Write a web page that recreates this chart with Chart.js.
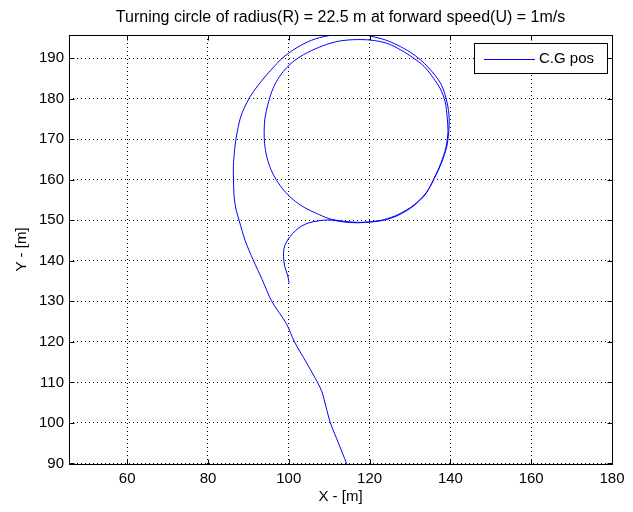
<!DOCTYPE html>
<html>
<head>
<meta charset="utf-8">
<script src="https://cdn.jsdelivr.net/npm/chart.js@4.4.1/dist/chart.umd.min.js"></script>
<style>
  body { margin: 0; background: #fff; }
  canvas { display: block; }
</style>
</head>
<body>
<canvas id="turnChart" width="633" height="512"></canvas>
<script>
// C.G position: hook, two turns of the circle, then the exit
const posX = [
  100.1, 99.7, 99.0, 98.7, 98.8, 99.4, 100.4, 101.6, 103.0, 105.0, 107.5, 110.2,
  113.5, 116.8, 120.5, 123.4, 127.0, 130.8, 133.8, 135.8, 137.6, 138.9, 139.4, 139.2,
  138.7, 137.5, 135.8, 133.5, 130.8, 127.8, 124.3, 120.2, 116.0, 112.8, 110.2, 106.5,
  102.8, 100.3, 98.6, 96.9, 95.8, 94.8, 94.1, 93.9, 94.0, 94.6, 95.6, 96.9,
  98.8, 101.1, 103.8, 106.9, 110.0,
  113.4, 116.9, 120.6, 123.7, 127.2, 131.0, 134.0, 136.0, 137.8, 139.1, 139.6, 139.7,
  139.2, 137.7, 134.4, 131.1, 127.6, 124.0, 120.5, 115.8, 111.1, 106.6, 102.8, 98.8,
  96.6, 94.5, 92.3, 90.4, 89.0, 88.0, 87.1, 86.6, 86.3, 86.3, 86.5, 87.0,
  87.7, 89.2, 91.2, 93.4, 95.8, 99.4, 101.4, 104.3, 107.1, 108.2, 109.2, 110.3,
  112.3, 114.3, 114.6
];
const posY = [
  134.5, 136.5, 138.6, 141.0, 143.0, 144.6, 146.1, 147.4, 148.5, 149.4, 149.9, 150.1,
  149.6, 149.4, 149.6, 150.0, 151.2, 153.5, 156.4, 160.0, 164.0, 168.0, 172.0, 175.5,
  179.3, 182.5, 185.1, 188.0, 190.1, 192.0, 193.7, 194.5, 194.6, 194.3, 193.7, 192.3,
  190.4, 188.5, 186.7, 184.2, 181.8, 178.5, 175.2, 172.0, 169.0, 165.5, 162.5, 160.0,
  157.4, 155.1, 153.2, 151.7, 150.4,
  149.8, 149.5, 149.7, 150.2, 151.5, 153.8, 156.8, 160.3, 164.2, 168.2, 172.0, 175.2,
  179.0, 183.6, 187.9, 190.8, 192.9, 194.5, 195.4, 196.4, 195.8, 194.8, 193.1, 190.4,
  188.2, 185.9, 183.2, 180.5, 177.8, 175.2, 171.1, 167.5, 163.5, 160.0, 155.5, 152.5,
  150.0, 145.0, 140.2, 135.4, 130.0, 124.5, 120.0, 115.0, 110.0, 107.7, 104.0, 100.0,
  95.0, 90.0, 89.3
];

const xTicks = [60, 80, 100, 120, 140, 160, 180];
const yTicks = [90, 100, 110, 120, 130, 140, 150, 160, 170, 180, 190];
const chartTitle = 'Turning circle of radius(R) = 22.5 m at forward speed(U) = 1m/s';

const FONT = "'Liberation Sans', Arial, sans-serif";
Chart.defaults.font.family = FONT;
Chart.defaults.font.size = 15;
Chart.defaults.color = '#000';

// title over the axes, box round them, inward tick marks on all sides, legend box
const matlabFrame = {
  id: 'matlabFrame',
  afterDraw(chart) {
    const { ctx, chartArea: a, scales: { x, y } } = chart;
    const L = Math.round(a.left) + 0.5, R = Math.round(a.right) + 0.5;
    const T = Math.round(a.top) + 0.5, B = Math.round(a.bottom) + 0.5;
    ctx.save();
    ctx.fillStyle = '#000';
    ctx.font = '16px ' + FONT;
    ctx.textAlign = 'center';
    ctx.textBaseline = 'alphabetic';
    ctx.fillText(chartTitle, (a.left + a.right) / 2, 22);

    ctx.strokeStyle = '#000';
    ctx.lineWidth = 1;
    ctx.strokeRect(L, T, R - L, B - T);
    ctx.beginPath();
    xTicks.forEach(v => {
      const p = Math.round(x.getPixelForValue(v)) + 0.5;
      ctx.moveTo(p, B); ctx.lineTo(p, B - 5);
      ctx.moveTo(p, T); ctx.lineTo(p, T + 5);
    });
    yTicks.forEach(v => {
      const p = Math.round(y.getPixelForValue(v)) + 0.5;
      ctx.moveTo(L, p); ctx.lineTo(L + 5, p);
      ctx.moveTo(R, p); ctx.lineTo(R - 5, p);
    });
    ctx.stroke();

    // legend
    const ds = chart.data.datasets[0];
    ctx.fillStyle = '#fff';
    ctx.fillRect(474.5, 43.5, 133, 30);
    ctx.strokeRect(474.5, 43.5, 133, 30);
    ctx.beginPath();
    ctx.strokeStyle = ds.borderColor;
    ctx.moveTo(484, 59.5); ctx.lineTo(535, 59.5);
    ctx.stroke();
    ctx.fillStyle = '#000';
    ctx.font = '15px ' + FONT;
    ctx.textAlign = 'left';
    ctx.textBaseline = 'middle';
    ctx.fillText(ds.label, 539, 59);
    ctx.restore();
  }
};

new Chart(document.getElementById('turnChart'), {
  type: 'scatter',
  data: {
    datasets: [{
      label: 'C.G pos',
      data: posX.map((v, i) => ({ x: v, y: posY[i] })),
      showLine: true,
      borderColor: '#0000ff',
      borderWidth: 1,
      pointRadius: 0,
      tension: 0.3,
      fill: false
    }]
  },
  options: {
    responsive: false,
    animation: false,
    layout: { padding: { left: 0, right: 21, top: 35, bottom: 0 } },
    plugins: {
      legend: { display: false },
      tooltip: { enabled: false },
      title: { display: false }
    },
    scales: {
      x: {
        type: 'linear',
        min: 45.6,
        max: 180,
        afterBuildTicks: s => { s.ticks = xTicks.map(v => ({ value: v })); },
        afterFit: s => { s.height = 48; },
        grid: { color: '#000', drawTicks: false },
        border: { display: false, dash: [1, 3] },
        ticks: { padding: 6, maxRotation: 0 },
        title: { display: true, text: 'X - [m]', padding: { top: 0, bottom: 6 } }
      },
      y: {
        type: 'linear',
        min: 89.85,
        max: 195.75,
        afterBuildTicks: s => { s.ticks = yTicks.map(v => ({ value: v })); },
        afterFit: s => { s.width = 69; },
        grid: { color: '#000', drawTicks: false },
        border: { display: false, dash: [1, 3] },
        ticks: { padding: 5 },
        title: { display: true, text: 'Y - [m]', padding: { top: 13, bottom: 0 } }
      }
    }
  },
  plugins: [matlabFrame]
});
</script>
</body>
</html>
